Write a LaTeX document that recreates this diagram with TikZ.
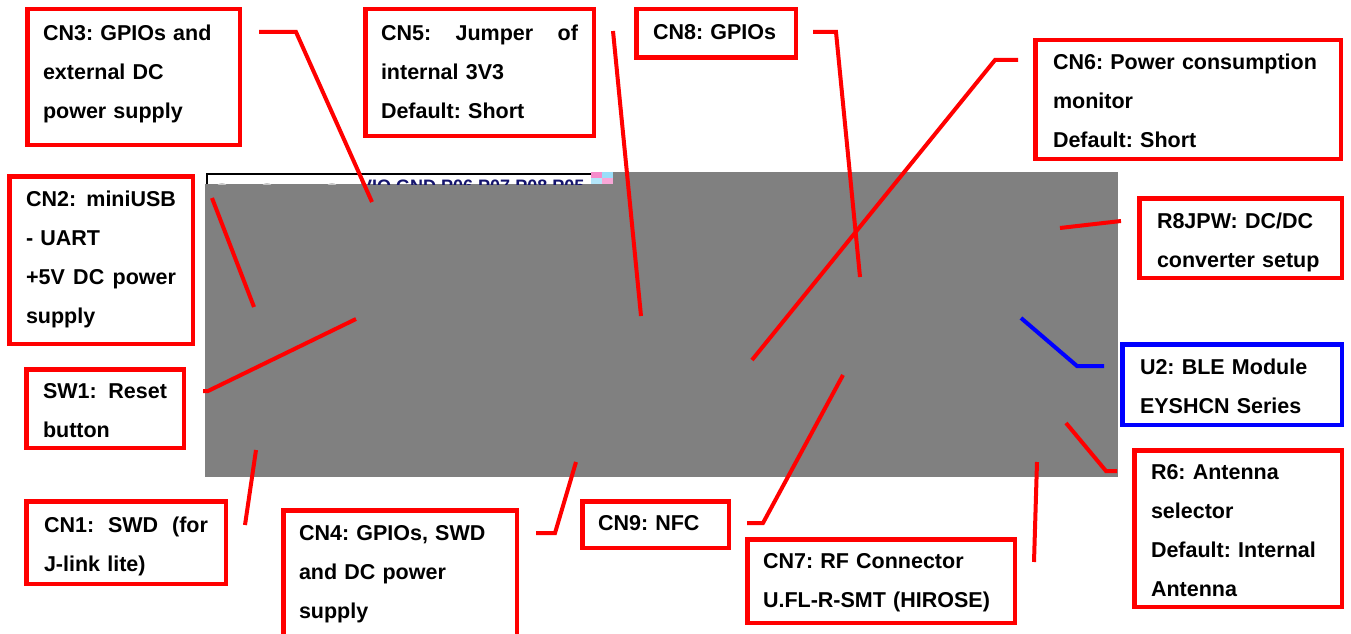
\documentclass[tikz,border=0pt]{standalone}
\usepackage{fontspec}
\setmainfont{Liberation Sans}
\usepackage{tikz}
\frenchspacing
\definecolor{pinblue}{RGB}{20,20,110}
\tikzstyle{box} = [draw=red, line width=4.5pt, anchor=north west, inner sep=0pt, outer sep=0pt, align=left, font=\bfseries\fontsize{21.5}{38.8}\selectfont]
\tikzstyle{bluebox} = [box, draw=blue]
\tikzstyle{link} = [red, line width=4pt]
\tikzstyle{bluelink} = [link, blue]
\tikzstyle{board} = [fill=gray]
\newcommand{\toppad}[1]{\rule{0pt}{#1pt}}
\newcommand{\botpad}[1]{\rule[-#1pt]{0pt}{#1pt}}
\newcommand{\gap}{\hspace{0pt plus 1filll}}
\begin{document}
\begin{tikzpicture}[x=1pt, y=-1pt]
                                \useasboundingbox (0,0) rectangle (1351,634);
                                \fill [board] (205,172) rectangle (1118,477);
                                \fill [white] (205,172) rectangle (591,184);
                                \begin{scope}
                                \clip (205,172) rectangle (591,184);
                                \fill [gray!45] (222,189) circle (6pt);
                                \fill [gray!45] (267,189) circle (6pt);
                                \fill [gray!45] (332,189) circle (6pt);
                                \node (pinrow) [anchor=base west, inner sep=0pt, text=pinblue, font=\bfseries\fontsize{18}{18}\selectfont] at (360,192) {VIO GND P06 P07 P08 P05};
                                \end{scope}
                                \draw [black, line width=1.5pt] (207,184) -- (207,174) -- (591,174);
                                \fill [magenta!45] (591,172) rectangle (602,178);
                                \fill [cyan!40] (602,172) rectangle (613,178);
                                \fill [cyan!30] (591,178) rectangle (602,184);
                                \fill [magenta!35] (602,178) rectangle (613,184);
                                \node (cn3) [box, text width=181pt, minimum width=212.5pt] at (27.25,9.25) {\toppad{31.5}CN3: GPIOs and\\external DC\\power supply\botpad{26.5}};
                                \node (cn5) [box, text width=197pt, minimum width=228.5pt] at (365.25,9.25) {\toppad{31.5}CN5:\gap Jumper\gap of\\internal 3V3\\Default: Short\botpad{17.5}};
                                \node (cn8) [box, text width=126pt, minimum width=159.5pt] at (636.25,9.25) {\toppad{30.5}\mbox{CN8: GPIOs}\botpad{18}};
                                \node (cn6) [box, text width=270pt, minimum width=305.5pt] at (1035.25,40.25) {\toppad{29.5}CN6: Power consumption\\monitor\\Default: Short\botpad{11.5}};
                                \node (r8jpw) [box, text width=167pt, minimum width=202.5pt] at (1139.25,198.25) {\toppad{30.5}R8JPW: DC/DC\\converter setup\botpad{10.3}};
                                \node (u2) [bluebox, text width=184pt, minimum width=219.5pt] at (1122.25,344.25) {\toppad{30.5}U2: BLE Module\\EYSHCN Series\botpad{11.3}};
                                \node (r6) [box, text width=174pt, minimum width=207.5pt] at (1134.25,450.25) {\toppad{29.5}R6: Antenna\\selector\\Default: Internal\\Antenna\botpad{10.7}};
                                \node (cn7) [box, text width=236pt, minimum width=267.5pt] at (747.25,539.25) {\toppad{29.5}CN7: RF Connector\\\mbox{U.FL-R-SMT (HIROSE)}\botpad{15.3}};
                                \node (cn9) [box, text width=115pt, minimum width=146.5pt] at (582.25,501.25) {\toppad{29.5}CN9: NFC\botpad{17}};
                                \node (cn4) [box, text width=202pt, minimum width=233.5pt] at (283.25,510.25) {\toppad{30.5}CN4: GPIOs, SWD\\and DC power\\supply\botpad{27}};
                                \node (cn1) [box, text width=164pt, minimum width=199.5pt] at (26.25,501.25) {\toppad{31.5}CN1:\gap SWD\gap (for\\J-link lite)\botpad{12.3}};
                                \node (sw1) [box, text width=124pt, minimum width=157.5pt] at (26.25,369.25) {\toppad{29.5}SW1:\gap Reset\\button\botpad{10.3}};
                                \node (cn2) [box, text width=150pt, minimum width=183.5pt] at (9.25,176.25) {\toppad{30.5}CN2:\gap miniUSB\\- UART\\+5V\gap DC\gap power\\supply\botpad{20.6}};
                                \coordinate (cn3 tail) at (259,32);
                                \coordinate (cn3 bend) at (296,32);
                                \coordinate (cn3 pin) at (372,202);
                                \coordinate (cn5 tail) at (613,31);
                                \coordinate (cn5 pin) at (641,316);
                                \coordinate (cn8 tail) at (813,32);
                                \coordinate (cn8 bend) at (836,32);
                                \coordinate (cn8 pin) at (860,277);
                                \coordinate (cn6 tail) at (1018,60);
                                \coordinate (cn6 bend) at (995,60);
                                \coordinate (cn6 pin) at (752,360);
                                \coordinate (r8jpw tail) at (1121,221);
                                \coordinate (r8jpw pin) at (1060,228);
                                \coordinate (u2 tail) at (1104,366);
                                \coordinate (u2 bend) at (1077,366);
                                \coordinate (u2 pin) at (1021,318);
                                \coordinate (r6 tail) at (1117,471);
                                \coordinate (r6 bend) at (1106,471);
                                \coordinate (r6 pin) at (1066,423);
                                \coordinate (cn7 tail) at (1034,562);
                                \coordinate (cn7 pin) at (1037,462);
                                \coordinate (cn9 tail) at (747,523);
                                \coordinate (cn9 bend) at (763,523);
                                \coordinate (cn9 pin) at (843,375);
                                \coordinate (cn4 tail) at (536,533);
                                \coordinate (cn4 bend) at (555,533);
                                \coordinate (cn4 pin) at (576,462);
                                \coordinate (cn1 tail) at (245,525);
                                \coordinate (cn1 pin) at (256,450);
                                \coordinate (sw1 tail) at (203,391);
                                \coordinate (sw1 bend) at (208,391);
                                \coordinate (sw1 pin) at (356,319);
                                \coordinate (cn2 tail) at (212,198);
                                \coordinate (cn2 pin) at (254,307);
                                \draw [link] (cn3 tail) -- (cn3 bend) -- (cn3 pin);
                                \draw [link] (cn5 tail) -- (cn5 pin);
                                \draw [link] (cn8 tail) -- (cn8 bend) -- (cn8 pin);
                                \draw [link] (cn6 tail) -- (cn6 bend) -- (cn6 pin);
                                \draw [link] (r8jpw tail) -- (r8jpw pin);
                                \draw [bluelink] (u2 tail) -- (u2 bend) -- (u2 pin);
                                \draw [link] (r6 tail) -- (r6 bend) -- (r6 pin);
                                \draw [link] (cn7 tail) -- (cn7 pin);
                                \draw [link] (cn9 tail) -- (cn9 bend) -- (cn9 pin);
                                \draw [link] (cn4 tail) -- (cn4 bend) -- (cn4 pin);
                                \draw [link] (cn1 tail) -- (cn1 pin);
                                \draw [link] (sw1 tail) -- (sw1 bend) -- (sw1 pin);
                                \draw [link] (cn2 tail) -- (cn2 pin);
                            \end{tikzpicture}
\end{document}
